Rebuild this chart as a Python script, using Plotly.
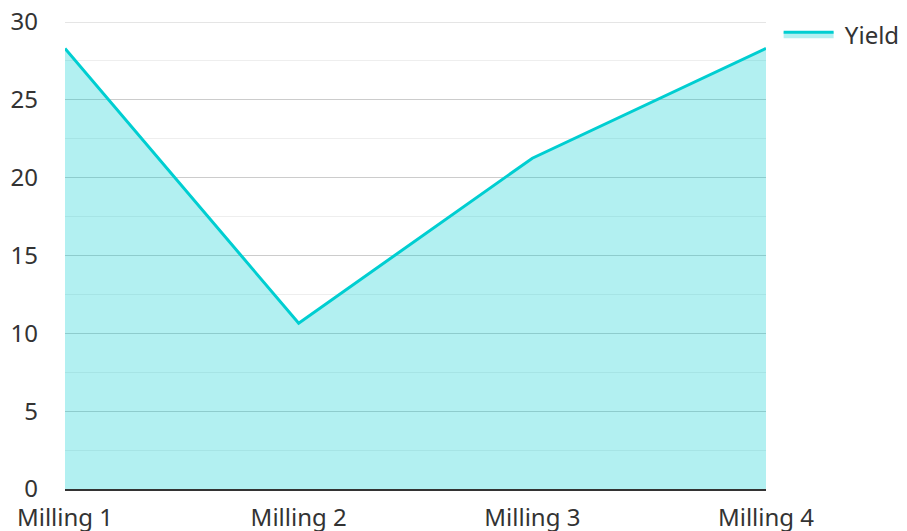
import plotly.graph_objects as go

categories = ["Milling 1", "Milling 2", "Milling 3", "Milling 4"]
yield_values = [28.3, 10.65, 21.25, 28.3]
y_ticks = [0, 5, 10, 15, 20, 25, 30]
y_minor_ticks = [2.5, 7.5, 12.5, 17.5, 22.5, 27.5]

fig = go.Figure()
fig.add_trace(go.Scatter(
    x=categories, y=yield_values, name="\u00a0Yield",
    mode="lines", fill="tozeroy",
    line=dict(color="#00CED1", width=3),
    fillcolor="rgba(0,206,209,0.3)",
))

# top gridline (Plotly drops the edge grid line when the label is near the div edge)
fig.add_shape(type="line", xref="paper", yref="y", x0=0, x1=1,
              y0=y_ticks[-1], y1=y_ticks[-1], layer="below",
              line=dict(color="#cccccc", width=1))

fig.update_layout(
    width=907, height=531,
    margin=dict(l=57, r=149, t=14, b=50, autoexpand=False),
    paper_bgcolor="white", plot_bgcolor="white",
    font=dict(family="Noto Sans, Open Sans, sans-serif", size=24, color="#333"),
    showlegend=True,
    legend=dict(x=1.018, y=1.021, xanchor="left", yanchor="top",
                itemwidth=50, font=dict(size=24, color="#333"),
                bgcolor="rgba(0,0,0,0)"),
    xaxis=dict(range=[0, 3], showgrid=False, showline=True, linecolor="#333",
               linewidth=2, ticks="", zeroline=False, fixedrange=True,
               automargin=False, ticklabelstandoff=6, ticklabeloverflow="allow"),
    yaxis=dict(range=[0, 30], tickvals=y_ticks,
               showgrid=True, gridcolor="#cccccc",
               gridwidth=1, zeroline=False, showline=False, ticks="",
               minor=dict(tickvals=y_minor_ticks, showgrid=True, gridcolor="#eeeeee"),
               ticklabelstandoff=26, automargin=False, ticklabeloverflow="allow"),
)

fig.write_html("out.html")
